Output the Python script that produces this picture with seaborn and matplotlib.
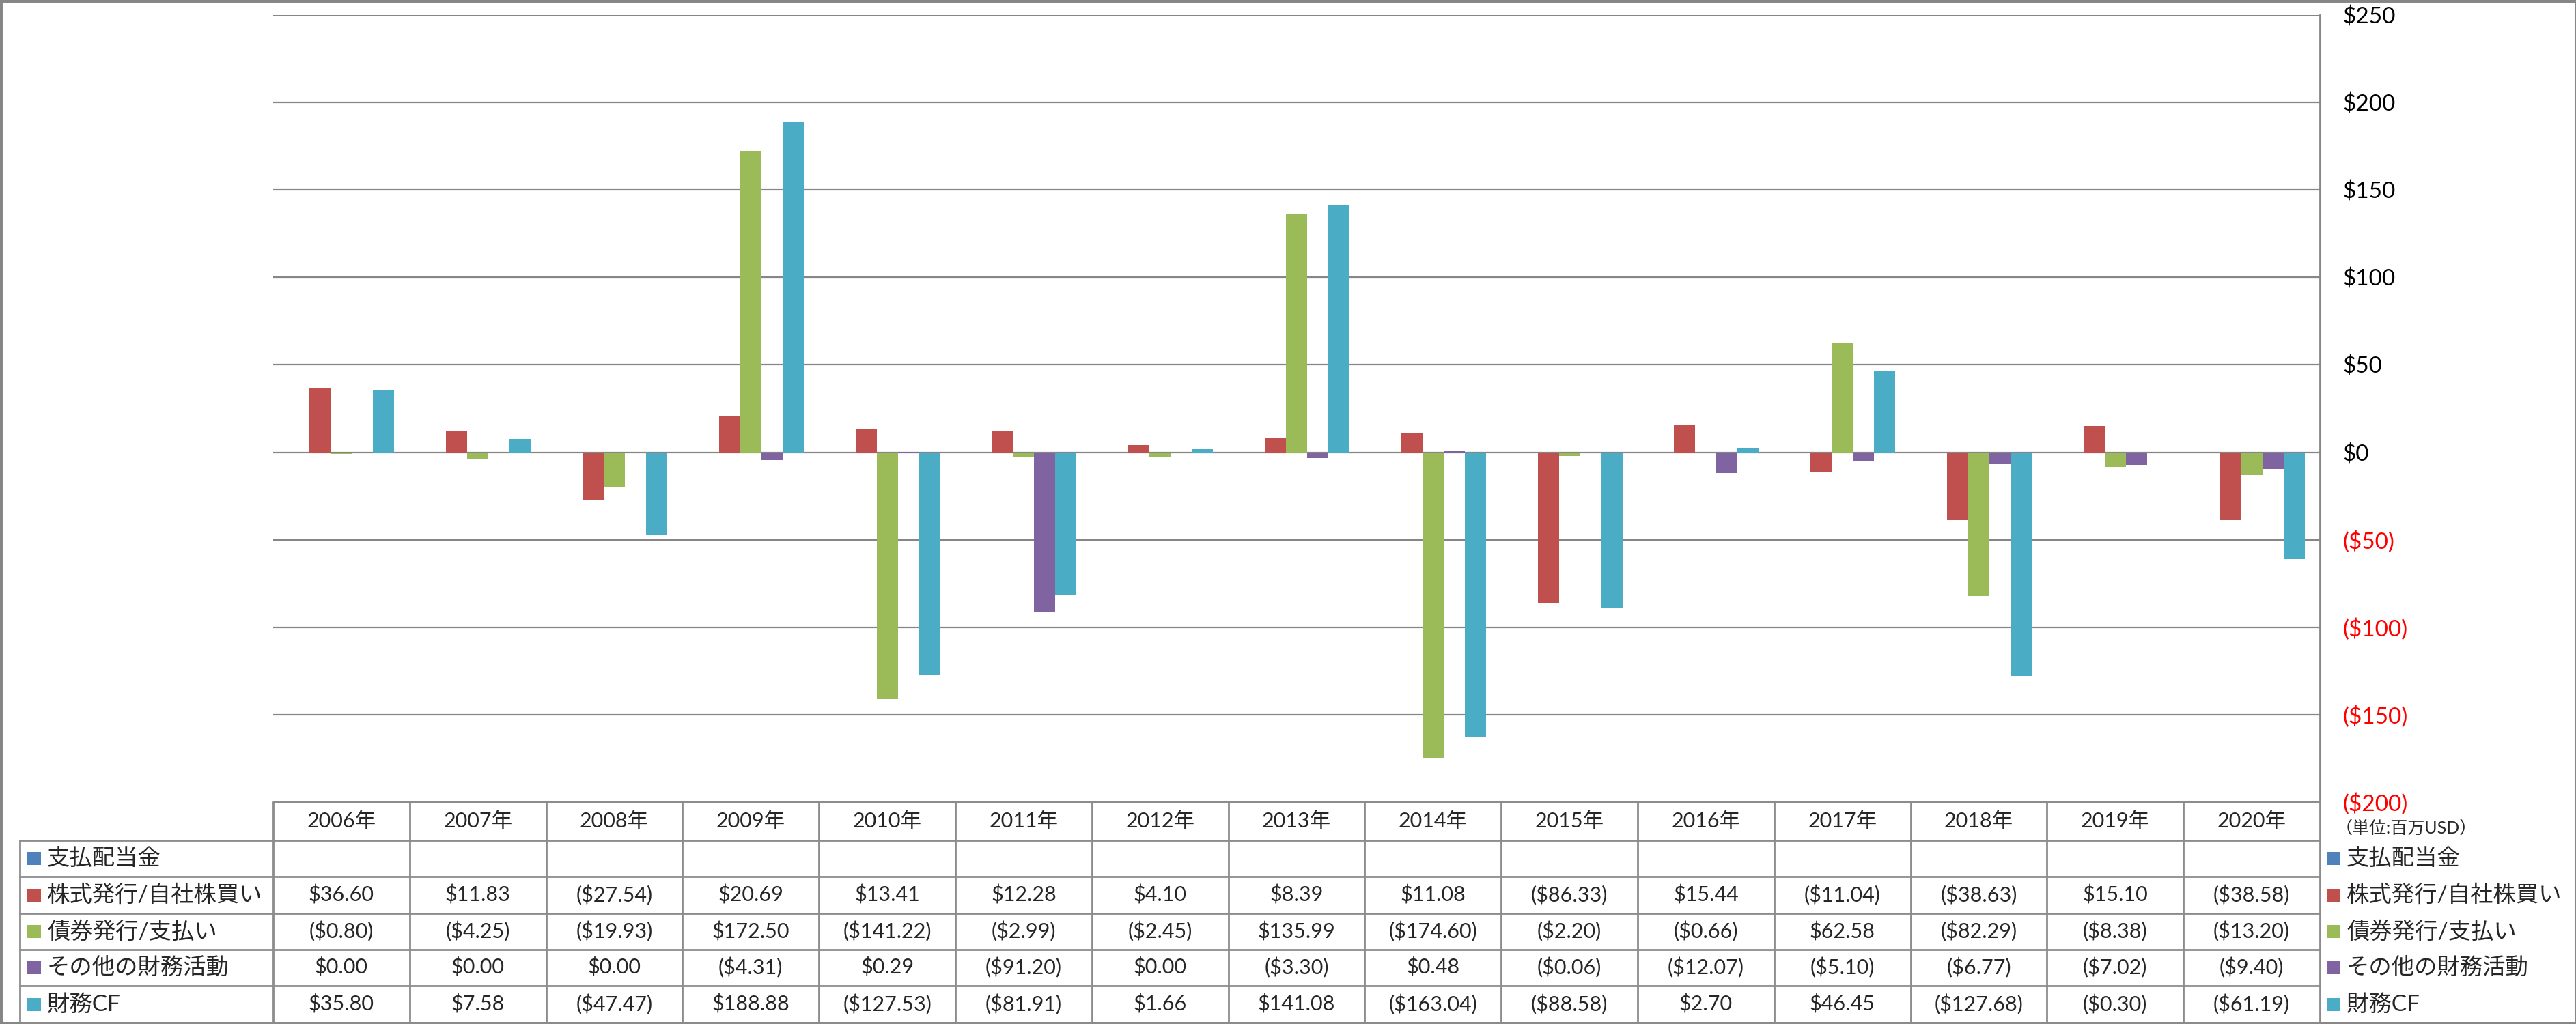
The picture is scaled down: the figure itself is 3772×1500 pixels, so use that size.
import numpy as np
import pandas as pd
import matplotlib
matplotlib.use("Agg")
import matplotlib.pyplot as plt
import seaborn as sns
from matplotlib.lines import Line2D
from matplotlib.patches import Rectangle
from matplotlib.ticker import FuncFormatter, MultipleLocator

# data (百万USD)
years = ["2006年", "2007年", "2008年", "2009年", "2010年", "2011年", "2012年", "2013年",
         "2014年", "2015年", "2016年", "2017年", "2018年", "2019年", "2020年"]
series = ["支払配当金", "株式発行/自社株買い", "債券発行/支払い", "その他の財務活動", "財務CF"]
colors = ["#4F81BD", "#C0504D", "#9BBB59", "#8064A2", "#4BACC6"]

dividends = [np.nan] * 15
stock = [36.60, 11.83, -27.54, 20.69, 13.41, 12.28, 4.10, 8.39, 11.08, -86.33,
         15.44, -11.04, -38.63, 15.10, -38.58]
bonds = [-0.80, -4.25, -19.93, 172.50, -141.22, -2.99, -2.45, 135.99, -174.60, -2.20,
         -0.66, 62.58, -82.29, -8.38, -13.20]
other = [0.00, 0.00, 0.00, -4.31, 0.29, -91.20, 0.00, -3.30, 0.48, -0.06,
         -12.07, -5.10, -6.77, -7.02, -9.40]
fin_cf = [35.80, 7.58, -47.47, 188.88, -127.53, -81.91, 1.66, 141.08, -163.04, -88.58,
          2.70, 46.45, -127.68, -0.30, -61.19]

values = [dividends, stock, bonds, other, fin_cf]

W, H = 3773, 1500
GRID = "#868686"
LINE = "#8C8C8C"


def fx(p):
    return p / W


def fy(p):
    return 1 - p / H


def money(v):
    if v is None or np.isnan(v):
        return ""
    if v < 0:
        return f"(${-v:,.2f})"
    return f"${v:,.2f}"


def axis_money(v, pos):
    if v < 0:
        return f"(${-v:,.0f})"
    return f"${v:,.0f}"


def main():
    rows = []
    for name, vals in zip(series, values):
        for yr, v in zip(years, vals):
            rows.append({"year": yr, "series": name, "value": v})
    df = pd.DataFrame(rows)

    sns.set_theme(style="white")
    plt.rcParams["font.family"] = ["Lato", "Noto Sans CJK JP", "DejaVu Sans"]

    fig = plt.figure(figsize=(W / 100, H / 100), dpi=100)
    ax = fig.add_axes([fx(400), fy(1175), fx(3397) - fx(400), fy(22) - fy(1175)])

    sns.barplot(data=df, x="year", y="value", hue="series", order=years,
                hue_order=series, palette=colors, saturation=1, width=0.775,
                errorbar=None, legend=False, linewidth=0, ax=ax)

    ax.set_xlim(-0.5, len(years) - 0.5)
    ax.set_ylim(-200, 250)
    ax.yaxis.set_major_locator(MultipleLocator(50))
    ax.yaxis.set_major_formatter(FuncFormatter(axis_money))
    ax.yaxis.tick_right()
    ax.tick_params(axis="y", length=0, pad=24, labelsize=24)
    ax.tick_params(axis="x", length=0, labelbottom=False)
    ax.set_xlabel("")
    ax.set_ylabel("")
    ax.grid(axis="y", color=GRID, linewidth=1.6)
    ax.grid(axis="x", visible=False)
    ax.set_axisbelow(True)
    for s in ["top", "left", "bottom"]:
        ax.spines[s].set_visible(False)
    ax.spines["right"].set_color(GRID)
    ax.spines["right"].set_linewidth(2)
    for t, v in zip(ax.get_yticklabels(), ax.get_yticks()):
        t.set_color("red" if v < 0 else "black")

    # data table below the plot
    pos = ax.get_position()
    n = len(years)
    bounds = [pos.x0 + k / n * pos.width for k in range(n + 1)]
    centers = [(bounds[k] + bounds[k + 1]) / 2 for k in range(n)]
    row_px = [1175, 1231, 1284, 1338, 1391, 1444, 1498]
    row_mid = [(row_px[k] + row_px[k + 1]) / 2 for k in range(len(row_px) - 1)]

    fig.add_artist(Line2D([bounds[0], bounds[-1]], [fy(row_px[0])] * 2, color=LINE, lw=2))
    for p in row_px[1:]:
        fig.add_artist(Line2D([fx(29), bounds[-1]], [fy(p)] * 2, color=LINE, lw=2))
    fig.add_artist(Line2D([fx(29), fx(29)], [fy(row_px[1]), fy(row_px[-1])], color=LINE, lw=2))
    for b in bounds:
        fig.add_artist(Line2D([b, b], [fy(row_px[0]), fy(row_px[-1])], color=LINE, lw=2))

    for c, yr in zip(centers, years):
        fig.text(c, fy(row_mid[0]), yr, ha="center", va="center", fontsize=22)

    for j, (name, vals, col) in enumerate(zip(series, values, colors)):
        ym = fy(row_mid[j + 1])
        fig.add_artist(Rectangle((fx(40), ym - 9.5 / H), fx(20), 19 / H,
                                 facecolor=col, edgecolor="none", transform=fig.transFigure))
        fig.text(fx(69), ym, name, ha="left", va="center", fontsize=24)
        for c, v in zip(centers, vals):
            fig.text(c, ym, money(v), ha="center", va="center", fontsize=22)
        # legend at the right
        fig.add_artist(Rectangle((fx(3408), ym - 9.5 / H), fx(19), 19 / H,
                                 facecolor=col, edgecolor="none", transform=fig.transFigure))
        fig.text(fx(3436), ym, name, ha="left", va="center", fontsize=24)

    fig.text(fx(3420), fy(1213), "（単位:百万USD）", ha="left", va="center", fontsize=18)

    fig.add_artist(Rectangle((0, 0), 1, 1, fill=False, edgecolor=GRID, lw=5,
                             transform=fig.transFigure))

    fig.savefig("out.png", dpi=100, facecolor="white")
    plt.close(fig)


if __name__ == "__main__":
    main()
